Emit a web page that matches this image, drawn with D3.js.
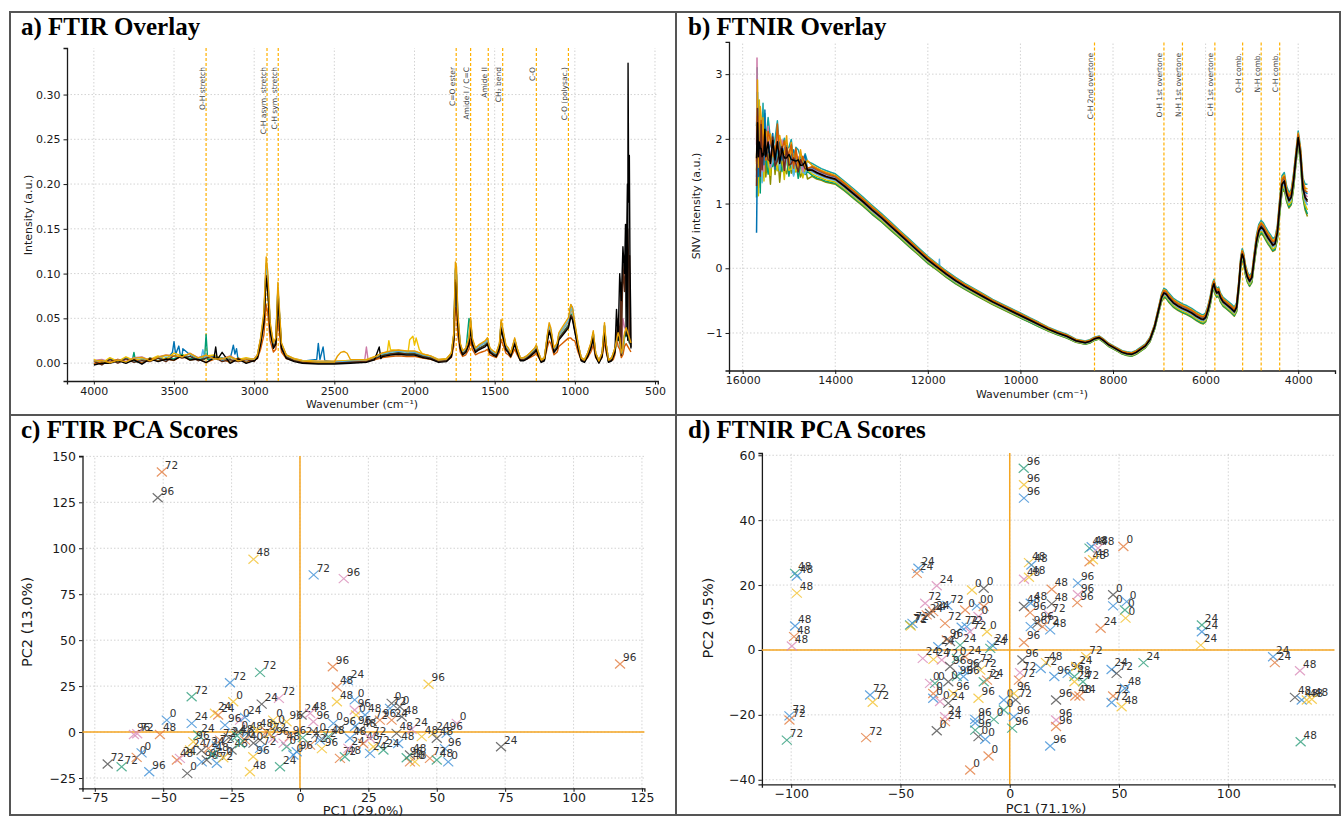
<!DOCTYPE html>
<html><head><meta charset="utf-8">
<script src="https://cdn.jsdelivr.net/npm/d3@7"></script>
<style>
body{margin:0;background:#fff}
text{font-family:"DejaVu Sans",sans-serif}
text.ttl{font-family:"Liberation Serif","Times New Roman",serif;font-weight:bold}
.grid{stroke:#c8c8c8;stroke-width:0.8;stroke-dasharray:1.5,2}
</style></head>
<body><svg id="chart" width="1341" height="816"></svg>
<script>
// ---------------- DATA ----------------
const ftirXTicks = [4000,3500,3000,2500,2000,1500,1000,500];
const ftirYTicks = [0,0.05,0.10,0.15,0.20,0.25,0.30];
const nirXTicks = [16000,14000,12000,10000,8000,6000,4000];
const nirYTicks = [-1,0,1,2,3];
const pcaFtirXTicks = [-75,-50,-25,0,25,50,75,100,125];
const pcaFtirYTicks = [-25,0,25,50,75,100,125,150];
const pcaNirXTicks = [-100,-50,0,50,100];
const pcaNirYTicks = [-40,-20,0,20,40,60];

const ftirBands = [3300,2920,2850,1740,1650,1540,1450,1240,1040];
const ftirBandLabels = ["O-H stretch","C-H asym. stretch","C-H sym. stretch","C=O ester","Amide I / C=C","Amide II","CH\u2082 bend","C-O","C-O (polysac.)"];
const nirBands = [8400,6900,6500,5800,5200,4800,4400];
const nirBandLabels = ["C-H 2nd overtone","O-H 1st overtone","N-H 1st overtone","C-H 1st overtone","O-H comb.","N-H comb.","C-H comb."];

const ftirWn = [4000,3950,3900,3850,3800,3750,3700,3650,3600,3550,3500,3450,3400,3350,3300,3250,3200,3150,3100,3050,3000,2980,2960,2940,2925,2915,2900,2880,2865,2852,2845,2830,2800,2750,2700,2600,2500,2400,2300,2250,2200,2150,2100,2050,2000,1950,1900,1850,1800,1770,1755,1745,1738,1730,1715,1700,1680,1660,1650,1640,1620,1600,1580,1560,1545,1530,1510,1490,1470,1460,1450,1430,1415,1400,1375,1360,1340,1320,1300,1280,1250,1240,1230,1210,1190,1170,1160,1150,1130,1110,1100,1080,1060,1040,1025,1015,1000,980,960,940,920,900,885,870,850,830,815,805,790,770,750,730,720,710,700,690,680,670,660,650];
const ftirMean = [0.002,0.001,0.003,0.002,0.003,0.004,0.003,0.004,0.005,0.006,0.008,0.008,0.007,0.006,0.006,0.005,0.005,0.004,0.004,0.003,0.004,0.008,0.025,0.05,0.105,0.09,0.04,0.02,0.025,0.08,0.06,0.02,0.008,0.004,0.002,0.001,0.001,0.002,0.003,0.006,0.010,0.012,0.013,0.012,0.012,0.009,0.007,0.003,0.004,0.010,0.030,0.100,0.095,0.050,0.020,0.012,0.015,0.025,0.045,0.025,0.015,0.018,0.020,0.022,0.025,0.015,0.012,0.010,0.020,0.043,0.035,0.018,0.015,0.010,0.025,0.015,0.005,0.005,0.007,0.010,0.015,0.018,0.012,0.003,0.005,0.030,0.040,0.035,0.015,0.020,0.030,0.035,0.040,0.045,0.058,0.055,0.040,0.020,0.005,0.003,0.010,0.020,0.032,0.010,0.002,0.010,0.040,0.020,0.003,0.005,0.015,0.030,0.025,0.010,0.015,0.030,0.035,0.030,0.025,0.020];
// baseline noise (first 21 points, 4000-3000 cm-1), read as ± deviations
const ftirNoise = [
  [0.001,-0.002,0.002,-0.001,0.003,-0.002,0.001,-0.001,0.002,-0.003,0.002,-0.001,0.002,-0.002,0.001,0.003,-0.002,0.001,-0.001,0.002,-0.001],
  [-0.002,0.001,-0.001,0.003,-0.001,0.002,-0.002,0.003,-0.001,0.001,-0.002,0.003,-0.001,0.001,-0.003,0.001,0.002,-0.002,0.003,-0.001,0.001],
  [0.000,0.002,-0.003,0.001,-0.002,0.001,0.003,-0.002,0.001,0.002,-0.001,-0.002,0.003,-0.001,0.002,-0.001,-0.001,0.003,-0.002,0.001,0.000]
];
const ftirSeriesColor = ["#0072B2","#009E73","#CC79A7","#F0C000","#D55E00","#56B4E9","#5a2a14","#000000","#E69F00"];
const ftirSeriesScale = [1.04,0.97,1.0,1.02,0.62,1.06,0.94,0.92,1.13];
const ftirSeriesOffset = [0.000,-0.001,0.001,0.001,0.000,0.000,-0.001,-0.002,0.000];
const ftirSeriesNoise = [0,1,2,0,1,2,0,1,2];
const ftirSeriesSpikes = [
  [[3510,0.012],[3500,0.024],[3490,0.010],[3470,0.019],[3460,0.008],[3445,0.016],[3140,0.012],[3130,0.020],[3120,0.010],[3110,0.016],[2610,0.004],[2600,0.022],[2590,0.004],[2570,0.018],[2560,0.003],[1025,0.065],[1015,0.062]],
  [[3760,0.003],[3750,0.012],[3740,0.002],[3310,0.004],[3300,0.032],[3290,0.004],[1660,0.05]],
  [[2310,0.004],[2300,0.018],[2290,0.004],[700,0.05],[690,0.04]],
  [[2170,0.012],[2160,0.025],[2150,0.015],[2040,0.012],[2030,0.026],[2010,0.030],[2000,0.020],[1990,0.028],[1970,0.015]],
  [[1025,0.028],[1015,0.026],[760,0.004],[740,0.03]],
  [[3330,0.006],[3320,0.015],[3310,0.006]],
  [[730,0.05],[712,0.09],[700,0.11],[690,0.08],[680,0.13],[670,0.15],[664,0.11],[658,0.12],[652,0.03]],
  [[3250,0.006],[3240,0.018],[3230,0.004],[3200,0.012],[2220,0.018],[2210,0.005],[740,0.06],[720,0.10],[710,0.07],[700,0.13],[690,0.10],[684,0.155],[678,0.12],[672,0.20],[668,0.335],[664,0.18],[660,0.232],[656,0.11],[652,0.06]],
  [[2480,0.008],[2460,0.012],[2440,0.013],[2420,0.011],[2400,0.004]]
];

const nirWn = [15700,15680,15660,15640,15620,15600,15580,15560,15540,15520,15500,15450,15400,15350,15300,15250,15200,15150,15100,15050,15000,14950,14900,14850,14800,14750,14700,14650,14600,14500,14400,14300,14200,14100,14000,13800,13600,13400,13200,13000,12800,12600,12400,12200,12000,11800,11600,11400,11200,11000,10800,10600,10400,10200,10000,9800,9600,9400,9200,9000,8800,8600,8500,8400,8300,8200,8100,8000,7900,7800,7700,7600,7500,7400,7300,7200,7100,7000,6950,6900,6850,6800,6700,6600,6500,6400,6300,6200,6100,6050,6000,5950,5900,5850,5820,5790,5760,5720,5680,5620,5550,5450,5380,5330,5280,5240,5210,5180,5140,5100,5050,5000,4950,4900,4850,4800,4750,4700,4650,4600,4550,4500,4450,4400,4350,4300,4250,4200,4150,4100,4050,4000,3950,3900,3850,3800];
const nirMean = [1.6,2.4,1.6,2.0,1.7,1.95,1.65,1.9,1.7,2.05,1.8,1.9,1.72,1.85,1.7,1.88,1.72,1.8,1.68,1.78,1.66,1.73,1.62,1.68,1.6,1.64,1.57,1.6,1.54,1.52,1.48,1.45,1.42,1.4,1.38,1.27,1.15,1.03,0.9,0.78,0.65,0.52,0.39,0.26,0.13,0.02,-0.09,-0.19,-0.28,-0.36,-0.44,-0.52,-0.59,-0.66,-0.73,-0.8,-0.87,-0.94,-1.0,-1.05,-1.12,-1.15,-1.13,-1.09,-1.07,-1.12,-1.18,-1.22,-1.26,-1.3,-1.32,-1.33,-1.3,-1.25,-1.2,-1.1,-0.9,-0.6,-0.45,-0.38,-0.4,-0.45,-0.53,-0.58,-0.62,-0.65,-0.69,-0.74,-0.78,-0.79,-0.76,-0.65,-0.5,-0.3,-0.24,-0.33,-0.38,-0.36,-0.45,-0.52,-0.56,-0.62,-0.67,-0.6,-0.25,0.1,0.22,0.16,-0.02,-0.13,-0.2,-0.14,0.15,0.42,0.58,0.64,0.6,0.53,0.47,0.42,0.36,0.38,0.55,0.95,1.3,1.35,1.15,1.05,1.1,1.35,1.7,2.02,1.75,1.25,1.1,1.05];
const nirSpread = [0.3,0.3,0.3,0.28,0.28,0.27,0.26,0.25,0.25,0.24,0.24,0.23,0.22,0.21,0.2,0.2,0.19,0.18,0.18,0.17,0.16,0.16,0.15,0.14,0.13,0.13,0.12,0.12,0.11,0.1,0.1,0.09,0.09,0.085,0.08,0.075,0.075,0.07,0.07,0.065,0.065,0.06,0.06,0.055,0.055,0.05,0.05,0.05,0.045,0.045,0.045,0.04,0.04,0.04,0.04,0.035,0.035,0.03,0.03,0.03,0.025,0.025,0.025,0.025,0.025,0.025,0.025,0.025,0.025,0.025,0.03,0.03,0.03,0.03,0.03,0.035,0.04,0.05,0.06,0.07,0.07,0.07,0.07,0.07,0.07,0.07,0.07,0.07,0.07,0.07,0.07,0.07,0.07,0.07,0.07,0.07,0.07,0.07,0.07,0.07,0.07,0.07,0.07,0.07,0.08,0.08,0.08,0.08,0.08,0.08,0.08,0.08,0.09,0.1,0.1,0.1,0.1,0.1,0.1,0.1,0.1,0.1,0.11,0.12,0.13,0.13,0.12,0.12,0.12,0.12,0.1,0.1,0.12,0.15,0.2,0.25];
// per-series noise of the first 29 points (15700-14600 cm-1)
const nirNoise = [
  [0.2,-0.3,0.25,-0.1,0.3,-0.2,0.15,-0.25,0.1,0.2,-0.15,0.1,-0.2,0.25,-0.05,0.15,-0.2,0.1,0.05,-0.15,0.2,-0.1,0.1,-0.05,0.15,-0.1,0.05,0.1,-0.05],
  [-0.25,0.3,-0.1,0.2,-0.3,0.15,0.2,-0.1,0.25,-0.2,0.1,-0.25,0.2,-0.1,0.15,-0.2,0.1,-0.15,0.2,0.05,-0.1,0.15,-0.05,0.1,-0.1,0.05,0.1,-0.05,0.05],
  [0.1,0.2,-0.3,0.25,0.1,-0.2,-0.15,0.3,-0.2,0.05,0.25,-0.1,-0.15,0.2,0.1,-0.25,0.15,0.05,-0.2,0.15,-0.05,-0.1,0.15,-0.1,0.05,0.1,-0.1,0.05,0.05],
  [-0.1,-0.2,0.3,-0.25,0.2,0.1,-0.25,0.05,0.2,-0.3,0.15,0.2,-0.1,-0.15,0.25,0.05,-0.15,0.2,-0.1,-0.05,0.15,0.05,-0.15,0.1,-0.05,0.1,-0.05,-0.1,0.05],
  [0.3,-0.1,-0.2,0.1,0.25,-0.3,0.1,0.15,-0.2,0.1,-0.1,0.2,0.05,-0.2,0.1,0.2,-0.1,-0.1,0.15,-0.1,0.05,0.1,-0.1,0.05,0.1,-0.05,-0.05,0.05,0.0]
];
const nirSeriesColor = ["#8c8c00","#009E73","#D4C200","#56B4E9","#17a2a2","#CC79A7","#0072B2","#E69F00","#D55E00","#6b2a1f","#000000"];
const nirSeriesLevel = [-1.0,-0.85,-0.6,-0.3,1.0,0.2,0.4,0.7,0.5,-0.1,0.0];
const nirSeriesNoise = [0,1,2,3,4,1,3,0,2,4,0];
const nirSeriesNoiseSign = [1,1,1,1,1,-1,-1,-1,-1,-1,0.5];
const nirSeriesSpikes = [
  [], [[15685,3.1]], [[15640,2.6]], [[11760,0.0],[11750,0.14],[11740,-0.02]], [[15560,2.55]],
  [[15690,3.25],[15670,2.2]], [[15700,0.55],[15690,1.2]], [[15620,2.5]], [], [], []
];

const scatterColors = ["#3d8fd6","#e27c3e","#2f9e7c","#d98cb9","#f2c230","#4d4d4d"];
const ftirScores = [
 [-50.5,141.5,"72",1],[-52,127.5,"96",5],[-17,94,"48",4],[5,85.5,"72",0],[16,83.5,"96",3],
 [117,37,"96",1],[12,35.5,"96",1],[17.5,28,"24",0],[13.5,24.5,"48",1],[13.5,16.5,"48",4],
 [20,17.5,"0",0],[20,12,"96",3],[20.5,9.3,"0",4],[47,26,"96",4],[57.3,4.7,"0",3],
 [73.5,-8,"24",5],[54.2,-16.2,"0",0],[53,-9,"96",0],[47.5,-14.3,"72",1],[50,-15.2,"48",2],
 [48.7,-0.7,"24",4],[53.6,-0.7,"96",0],[50,-3.4,"48",5],[40.8,1.5,"24",3],[44.5,-2.5,"48",4],
 [37.2,8.3,"48",5],[33.5,15.6,"0",5],[36.5,13.8,"0",5],[32.9,12.9,"72",0],[33.5,6.5,"24",1],
 [35.3,-0.7,"48",5],[35.9,-6.2,"48",0],[40.2,-12.5,"48",5],[42,-16.2,"0",4],[40.2,-16.2,"48",1],
 [39,-14,"96",2],[26.8,-8,"72",4],[30.5,-9.8,"24",2],[14.6,-14.3,"72",1],[16.4,-13.4,"48",2],
 [25.6,-11.6,"24",0],[23.8,9.3,"48",0],[26.2,5.6,"72",5],[29.2,6.5,"96",1],[21.9,1.1,"48",5],
 [20.1,3,"96",0],[18.3,-3.4,"48",0],[17.7,-8.9,"24",3],[23.1,-6.2,"48",1],[25.6,-3.4,"72",3],
 [12.2,4.7,"0",0],[14.6,2,"96",5],[10.4,-2.5,"48",2],[7.3,-4.4,"72",0],[3.7,-7.1,"72",1],
 [0.6,9.3,"24",5],[3.7,10.2,"48",3],[4.9,5.6,"96",3],[-70.3,-17.4,"72",5],[-65.2,-18.9,"72",2],
 [-55.1,-21.6,"96",0],[-41.2,-22.5,"0",5],[-59.7,-13.8,"0",1],[-57.9,-11.3,"0",0],[-60.7,-1.3,"96",3],
 [-59.5,-0.9,"72",3],[-51.2,-1.3,"48",1],[-48.7,6.5,"0",0],[-39.6,4.7,"24",0],[-39.6,19.2,"72",2],
 [-37.2,-1.6,"24",2],[-25.6,26.8,"72",0],[-14.6,32.5,"72",2],[-7.7,18.3,"72",3],[-14,15.2,"24",5],
 [-24.4,16.5,"0",4],[-31.1,10.2,"24",4],[-29.9,9.3,"24",1],[-21.9,6.5,"0",3],[-20.1,8,"24",0],
 [-9.8,6.5,"0",4],[-4.9,5.6,"96",4],[-27.4,3.8,"96",0],[-29.2,-4.4,"72",1],[-39,-5.3,"96",4],
 [-40.2,-9.8,"24",4],[-33.5,-8.9,"24",1],[-30.4,-7.6,"72",0],[-45,-15.2,"48",1],[-43.9,-14.3,"24",3],
 [-35.9,-16.2,"96",0],[-34.1,-15.2,"96",5],[-30.4,-17,"72",0],[-18.3,-21.6,"48",4],[-17.1,-13.4,"96",4],
 [-7.3,-18.9,"24",2],[-25,-9.8,"48",5],[-22.5,0.2,"0",5],[-19.5,-0.7,"48",0],[-15.8,1.1,"48",4],
 [-12.2,0.2,"0",1],[-9,3.5,"0",4],[-14.6,-4.4,"72",5],[-9.8,-3.4,"96",3],[-3.7,-2.5,"96",1],
 [-20.1,-4.4,"0",1],[-21.9,-6.2,"24",2],[-14.6,-8.9,"72",0],[-4.9,-8,"0",2],[-1.2,-10.7,"96",0],
 [-2.4,-12.5,"0",0],[-26,-3,"24",5],[-23,-2,"48",2],[-17,-6,"0",5],[-11,-1,"72",4],
 [-6,-6,"48",3],[1,-3,"24",2],[6,-1,"0",5],[8,-9,"96",4],[-32,-12,"48",2],[-28,-14,"0",4],[-36,-10,"72",5]
];
const nirScores = [
 [6.4,56,"96",2],[6.5,50.9,"96",4],[6.5,46.8,"96",0],[36.5,31.4,"48",2],[37.5,31.8,"48",0],
 [40.4,31.4,"48",3],[36.5,27.2,"48",1],[38.1,27.8,"48",4],[52,31.9,"0",1],[8.8,26.9,"48",4],
 [9.9,26.2,"48",0],[6.5,21.8,"48",3],[8.8,22.4,"48",4],[19.2,18.7,"48",1],[31.2,20.6,"96",0],
 [31.2,17,"96",3],[30.9,14.6,"96",1],[47.3,17,"0",5],[47.3,13.6,"0",0],[53.5,14.9,"0",0],
 [52.7,12.3,"0",2],[53,9.8,"0",4],[41.6,6.7,"24",1],[6.5,13.4,"48",5],[9.6,14.4,"48",0],
 [9.3,11.5,"96",1],[19.2,14.2,"48",5],[18.1,10.8,"72",3],[18.5,6.2,"48",0],[9.6,7.2,"96",0],
 [12.7,8.2,"96",5],[15,7.2,"72",1],[6.5,2.3,"96",1],[5.8,-3.1,"96",5],[35,-2.1,"72",4],
 [16.6,-3.9,"48",4],[14.2,-5.7,"72",0],[20.4,-8.2,"96",0],[26.5,-7.2,"96",0],[29.6,-8.2,"48",2],
 [30.4,-5.1,"24",4],[33.5,-9.8,"72",2],[29.6,-9.8,"24",4],[4.7,-7,"72",3],[4.2,-9.3,"72",1],
 [46.6,-6,"24",0],[48.9,-7.2,"72",5],[61.2,-3.9,"24",2],[87.9,7.7,"24",2],[87.9,5.6,"24",0],
 [87.4,1.5,"24",4],[120.5,-2.1,"24",0],[121.3,-3.9,"24",1],[132.8,-6.4,"48",3],[130.5,-14.6,"48",5],
 [133.6,-15.4,"48",0],[135.9,-15.4,"48",4],[138.2,-15.2,"48",4],[133.1,-28.3,"48",2],[30,-14.2,"48",1],
 [31.9,-14.2,"24",1],[47.3,-14.2,"72",1],[52.7,-11.8,"48",0],[46.6,-16.2,"72",0],[51.2,-17.5,"48",4],
 [21.2,-15.4,"96",5],[21.2,-21.6,"96",3],[21.2,-23.6,"96",1],[18.5,-29.6,"96",0],[-2.7,-15.4,"0",0],
 [2.7,-15.4,"72",5],[1.9,-13.4,"96",4],[-2.7,-18.5,"0",2],[1.9,-20.6,"96",0],[1.1,-24.1,"96",2],
 [-7.3,-21.4,"0",2],[-15.8,-21.4,"96",0],[-15.8,-22.5,"0",0],[-15.8,-24.7,"96",2],[-14.3,-26.7,"0",5],
 [-11.2,-27.5,"0",0],[-9.7,-32.7,"0",1],[-18.1,-37,"0",1],[-17.3,18.5,"0",4],[-11.9,19,"0",5],
 [-15,13.6,"0",0],[-11.9,13.4,"0",1],[-14.3,10.3,"0",3],[-19.7,7.2,"72",0],[-10.4,5.6,"0",4],
 [-8.1,1.5,"24",0],[-8.9,0.5,"24",2],[-20.4,-2.1,"24",1],[-15,-4.6,"72",5],[-13.5,-6.2,"72",4],
 [-21.2,-6.2,"96",0],[-11.9,-9.8,"72",2],[-10.4,-9.3,"24",1],[-14.3,-14.9,"96",4],[-98.2,23.6,"48",2],
 [-97.4,22.8,"48",0],[-97.4,17.5,"48",4],[-98.2,7.4,"48",0],[-98.7,4.1,"48",1],[-99.7,1.2,"48",3],
 [-100.8,-20.3,"72",0],[-100.8,-21.6,"72",1],[-102,-27.8,"72",2],[-63.9,-13.9,"72",0],[-62.7,-16.1,"72",4],
 [-65.7,-27,"72",1],[-41.8,25.2,"24",0],[-42.5,23.6,"24",1],[-33.4,19.8,"24",3],[-38.7,14.4,"72",3],
 [-28.5,13.7,"72",0],[-20.4,12.3,"0",1],[-45.6,7.7,"72",2],[-45.3,7.4,"72",4],[-44.5,8.2,"72",0],
 [-38,10.8,"24",1],[-36.5,11.3,"24",5],[-35,11.8,"24",1],[-29.6,8.2,"72",1],[-22,7,"72",0],
 [-18.2,5.6,"72",3],[-28.8,3.1,"96",1],[-32.7,1,"24",0],[-27.3,2.6,"0",5],[-22.7,1.5,"24",2],
 [-39.8,-2.6,"24",3],[-34.9,-2.9,"24",4],[-31.1,-3.1,"72",3],[-24.2,-2.6,"0",2],[-27.3,-5.1,"96",5],
 [-24.2,-8.2,"96",2],[-21.2,-8.2,"96",0],[-36.5,-10.3,"0",3],[-34.2,-10.3,"0",2],[-28.1,-9.8,"0",5],
 [-35,-13.4,"0",1],[-35,-14.9,"0",0],[-31.9,-15.9,"0",3],[-25.8,-13.4,"96",4],[-28.1,-16.4,"24",5],
 [-29.6,-20.6,"24",3],[-29.6,-22.1,"24",1],[-33.4,-24.9,"0",5]
];

// ---------------- DRAW ----------------
const svg = d3.select("#chart");
let clipId = 0;

function drawAxes(g, x, y, xt, yt, fx, fy, fs, pad){
  const [x0,x1] = x.range(), [y0,y1] = y.range();
  g.append("g").selectAll("line").data(xt).join("line").attr("class","grid")
    .attr("x1",d=>x(d)).attr("x2",d=>x(d)).attr("y1",y0).attr("y2",y1);
  g.append("g").selectAll("line").data(yt).join("line").attr("class","grid")
    .attr("y1",d=>y(d)).attr("y2",d=>y(d)).attr("x1",x0).attr("x2",x1);
  const ax = g.append("g").attr("transform",`translate(0,${y0})`)
    .call(d3.axisBottom(x).tickValues(xt).tickFormat(fx).tickSizeOuter(0).tickSize(3.5).tickPadding(pad));
  const ay = g.append("g").attr("transform",`translate(${x0},0)`)
    .call(d3.axisLeft(y).tickValues(yt).tickFormat(fy).tickSizeOuter(0).tickSize(3.5).tickPadding(3));
  [ax,ay].forEach(a=>{
    a.attr("font-size",fs).attr("color","#1a1a1a");
    a.select(".domain").attr("stroke-width",1.3);
  });
}
function clipTo(g, x, y){
  const id = "clip"+(clipId++);
  const [x0,x1]=x.range(), [y0,y1]=y.range();
  svg.append("defs").append("clipPath").attr("id",id).append("rect")
    .attr("x",Math.min(x0,x1)).attr("y",Math.min(y0,y1)).attr("width",Math.abs(x1-x0)).attr("height",Math.abs(y1-y0));
  return g.append("g").attr("clip-path",`url(#${id})`);
}
function mergeSeries(wn, vals, spikes){
  const m = new Map();
  wn.forEach((w,i)=>m.set(w, vals[i]));
  spikes.forEach(s=>m.set(s[0], s[1]));
  return Array.from(m, ([w,v])=>({w,v})).sort((a,b)=>b.w-a.w);
}
function title(txt, x, y){
  svg.append("text").attr("class","ttl").attr("x",x).attr("y",y).text(txt)
    .attr("font-size",25).attr("fill","#000");
}
function axisLabel(txt, x, y, rot, fs){
  svg.append("text").attr("transform",`translate(${x},${y})${rot?" rotate(-90)":""}`)
    .attr("text-anchor","middle").attr("font-size",fs).attr("fill","#1a1a1a").text(txt);
}
function bands(g, x, y, wns, labels, labelY){
  const [y0,y1]=y.range();
  wns.forEach((w,i)=>{
    g.append("line").attr("x1",x(w)).attr("x2",x(w)).attr("y1",y0).attr("y2",y1)
      .attr("stroke","#FFB000").attr("stroke-width",1.2).attr("stroke-dasharray","3,2");
    g.append("text").attr("transform",`translate(${x(w)-1.5},${labelY}) rotate(-90)`)
      .attr("text-anchor","end").attr("font-size",7.5).attr("fill","#444").text(labels[i]);
  });
}
function scatter(g, x, y, data){
  data.forEach(d=>{
    const px = x(d[0]), py = y(d[1]);
    g.append("path").attr("d",`M${px-5},${py-4.5}L${px+5},${py+4.5}M${px-5},${py+4.5}L${px+5},${py-4.5}`)
      .attr("stroke",scatterColors[d[3]]).attr("stroke-width",1.2).attr("fill","none").attr("opacity",0.8);
    g.append("text").attr("x",px+3).attr("y",py-3).attr("font-size",10.5).attr("fill","#333").text(d[2]);
  });
}

// frame
svg.append("rect").attr("x",10).attr("y",12).attr("width",1330).attr("height",803).attr("fill","none").attr("stroke","#555").attr("stroke-width",2);
svg.append("line").attr("x1",676).attr("x2",676).attr("y1",12).attr("y2",815).attr("stroke","#555").attr("stroke-width",2);
svg.append("line").attr("x1",10).attr("x2",1340).attr("y1",415).attr("y2",415).attr("stroke","#555").attr("stroke-width",2);

// ---- panel a ----
{
  const x = d3.scaleLinear().domain([4167.5,482.5]).range([67,657.8]);
  const y = d3.scaleLinear().domain([-0.02,0.352]).range([381,48]);
  const g = svg.append("g");
  drawAxes(g, x, y, ftirXTicks, ftirYTicks, d3.format("d"), d3.format(".2f"), 11, 2.5);
  bands(g, x, y, ftirBands, ftirBandLabels, 67);
  const cg = clipTo(g, x, y);
  const line = d3.line().x(d=>x(d.w)).y(d=>y(d.v));
  ftirSeriesColor.forEach((c,k)=>{
    const nz = ftirNoise[ftirSeriesNoise[k]];
    const vals = ftirMean.map((v,i)=>v*ftirSeriesScale[k]+ftirSeriesOffset[k]+(i<nz.length?nz[i]:0));
    cg.append("path").datum(mergeSeries(ftirWn, vals, ftirSeriesSpikes[k]))
      .attr("d",line).attr("fill","none").attr("stroke",c).attr("stroke-width",1.4).attr("stroke-linejoin","round");
  });
  title("a) FTIR Overlay", 21, 35);
  axisLabel("Intensity (a.u.)", 32, 215, true, 11);
  axisLabel("Wavenumber (cm\u207B\u00B9)", 362, 408, false, 11);
}
// ---- panel b ----
{
  const x = d3.scaleLinear().domain([16295,3205]).range([729,1335]);
  const y = d3.scaleLinear().domain([-1.58,3.5]).range([370.5,41.8]);
  const g = svg.append("g");
  drawAxes(g, x, y, nirXTicks, nirYTicks, d3.format("d"), d3.format("d"), 11, 2.5);
  bands(g, x, y, nirBands, nirBandLabels, 53);
  const cg = clipTo(g, x, y);
  const line = d3.line().x(d=>x(d.w)).y(d=>y(d.v));
  nirSeriesColor.forEach((c,k)=>{
    const nz = nirNoise[nirSeriesNoise[k]], sg = nirSeriesNoiseSign[k];
    const vals = nirMean.map((v,i)=>v+nirSpread[i]*nirSeriesLevel[k]+(i<nz.length?nz[i]*sg:0));
    cg.append("path").datum(mergeSeries(nirWn, vals, nirSeriesSpikes[k]))
      .attr("d",line).attr("fill","none").attr("stroke",c).attr("stroke-width",1.5).attr("stroke-linejoin","round");
  });
  title("b) FTNIR Overlay", 688, 35);
  axisLabel("SNV intensity (a.u.)", 700, 206, true, 11);
  axisLabel("Wavenumber (cm\u207B\u00B9)", 1032, 398, false, 11);
}
// ---- panel c ----
{
  const x = d3.scaleLinear().domain([-79.5,125.9]).range([82.5,644.4]);
  const y = d3.scaleLinear().domain([-30.6,150.2]).range([788.3,456]);
  const g = svg.append("g");
  drawAxes(g, x, y, pcaFtirXTicks, pcaFtirYTicks, d3.format("d"), d3.format("d"), 12.5, 1.5);
  g.append("line").attr("x1",x(0)).attr("x2",x(0)).attr("y1",y.range()[0]).attr("y2",y.range()[1]).attr("stroke","#F5A623").attr("stroke-width",1.5);
  g.append("line").attr("y1",y(0)).attr("y2",y(0)).attr("x1",x.range()[0]).attr("x2",x.range()[1]).attr("stroke","#F5A623").attr("stroke-width",1.5);
  scatter(g, x, y, ftirScores);
  title("c) FTIR PCA Scores", 21, 438);
  axisLabel("PC2 (13.0%)", 32, 622, true, 14.5);
  axisLabel("PC1 (29.0%)", 363, 814.5, false, 13);
}
// ---- panel d ----
{
  const x = d3.scaleLinear().domain([-113.4,148.6]).range([761.9,1334.5]);
  const y = d3.scaleLinear().domain([-41.4,60.7]).range([784.3,453]);
  const g = svg.append("g");
  drawAxes(g, x, y, pcaNirXTicks, pcaNirYTicks, d3.format("d"), d3.format("d"), 12.5, 1.5);
  g.append("line").attr("x1",x(0)).attr("x2",x(0)).attr("y1",y.range()[0]).attr("y2",y.range()[1]).attr("stroke","#F5A623").attr("stroke-width",1.5);
  g.append("line").attr("y1",y(0)).attr("y2",y(0)).attr("x1",x.range()[0]).attr("x2",x.range()[1]).attr("stroke","#F5A623").attr("stroke-width",1.5);
  scatter(g, x, y, nirScores);
  title("d) FTNIR PCA Scores", 688, 438);
  axisLabel("PC2 (9.5%)", 713, 618, true, 14.5);
  axisLabel("PC1 (71.1%)", 1046, 812.5, false, 13);
}
</script></body></html>
